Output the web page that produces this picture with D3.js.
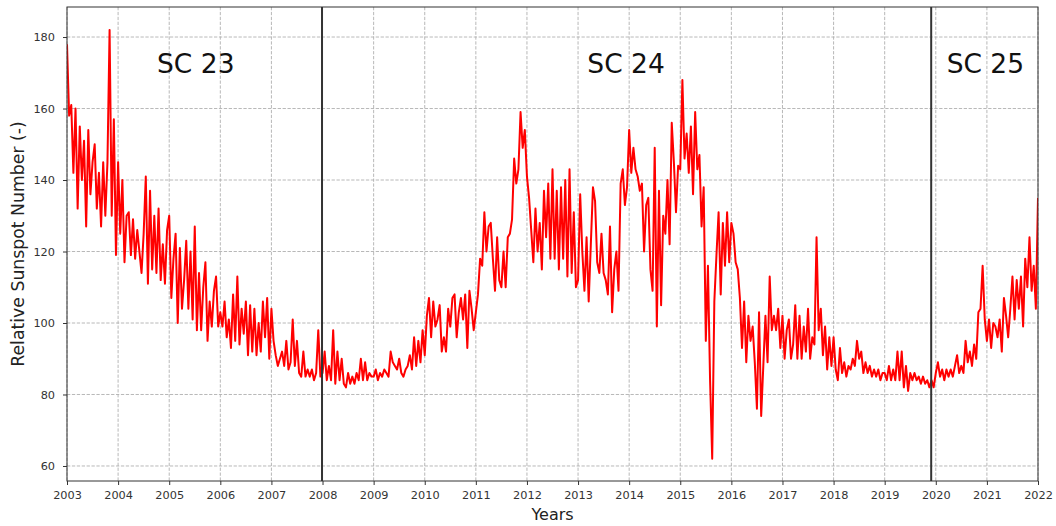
<!DOCTYPE html>
<html>
<head>
<meta charset="utf-8">
<script src="https://cdn.jsdelivr.net/npm/d3@7"></script>
<style>
  body { margin: 0; background: #fff; }
  svg { display: block; font-family: "DejaVu Sans", sans-serif; }
</style>
</head>
<body>
<script>
'use strict';

// half-monthly readings, 24 per year, starting 2003.0
const startYear = 2003;
const stepsPerYear = 24;
const sunspot = [
  // 2003
  178, 158, 161, 142, 160, 132, 155, 140, 151, 127, 154, 136, 145, 150, 132, 142, 127, 145, 130, 145, 182, 130, 157, 119,
  // 2004
  145, 125, 140, 117, 130, 131, 119, 129, 118, 126, 120, 114, 125, 141, 111, 137, 115, 130, 114, 132, 112, 122, 111, 126,
  // 2005
  130, 107, 118, 125, 100, 121, 104, 112, 123, 104, 120, 101, 127, 98, 114, 98, 110, 117, 95, 106, 99, 109, 113, 99,
  // 2006
  103, 99, 106, 96, 101, 93, 108, 95, 113, 94, 104, 97, 106, 91, 105, 92, 104, 91, 100, 92, 106, 96, 107, 90,
  // 2007
  104, 95, 91, 88, 90, 92, 88, 95, 87, 89, 101, 88, 95, 86, 85, 92, 85, 87, 85, 87, 84, 86, 98, 85,
  // 2008
  86, 92, 84, 88, 84, 98, 83, 92, 84, 90, 83, 82, 86, 83, 85, 83, 86, 84, 90, 84, 89, 84, 86, 85,
  // 2009
  85, 87, 84, 86, 85, 87, 86, 85, 92, 89, 88, 87, 90, 86, 85, 87, 88, 91, 87, 96, 88, 95, 89, 98,
  // 2010
  91, 102, 107, 96, 106, 99, 101, 105, 92, 96, 92, 104, 99, 107, 108, 96, 103, 107, 101, 108, 93, 109, 104, 98,
  // 2011
  103, 108, 118, 116, 131, 120, 127, 128, 118, 109, 124, 112, 110, 120, 110, 124, 125, 129, 146, 139, 143, 159, 149, 154,
  // 2012
  141, 135, 126, 117, 132, 120, 128, 115, 137, 124, 139, 118, 143, 118, 137, 115, 138, 118, 140, 113, 143, 114, 131, 110,
  // 2013
  112, 136, 120, 109, 124, 106, 122, 138, 134, 117, 114, 125, 114, 112, 108, 127, 103, 115, 120, 109, 139, 143, 133, 138,
  // 2014
  154, 142, 149, 143, 141, 137, 139, 120, 133, 135, 115, 109, 149, 99, 137, 105, 130, 125, 140, 122, 156, 145, 131, 144,
  // 2015
  143, 168, 146, 153, 142, 155, 136, 159, 143, 147, 127, 138, 95, 116, 84, 62, 106, 119, 131, 108, 128, 116, 131, 117,
  // 2016
  128, 125, 117, 115, 107, 93, 106, 89, 102, 95, 99, 89, 76, 103, 74, 88, 102, 89, 113, 98, 102, 98, 104, 93,
  // 2017
  102, 90, 98, 101, 90, 94, 105, 90, 102, 90, 99, 92, 104, 90, 96, 94, 124, 98, 104, 91, 99, 87, 96, 88,
  // 2018
  96, 87, 84, 93, 86, 89, 85, 88, 87, 90, 88, 95, 90, 92, 86, 89, 86, 88, 85, 87, 85, 87, 84, 86,
  // 2019
  86, 84, 88, 84, 87, 84, 92, 84, 92, 82, 88, 81, 86, 84, 86, 84, 85, 83, 85, 83, 84, 82, 84, 82,
  // 2020
  86, 89, 85, 87, 84, 87, 85, 87, 85, 88, 91, 86, 88, 86, 95, 89, 92, 88, 94, 90, 103, 104, 116, 101,
  // 2021
  95, 101, 93, 100, 99, 96, 101, 92, 107, 102, 96, 104, 113, 101, 112, 104, 113, 99, 118, 110, 124, 109, 116, 104,
  // 2022.0
  135
];

const xTicks = d3.range(2003, 2023);
const yTicks = [60, 80, 100, 120, 140, 160, 180];
const cycleStarts = [2007.99, 2019.91];
const cycleLabels = ["SC 23", "SC 24", "SC 25"];
const cycleLabelYears = [2005.52, 2013.94, 2020.97];
const cycleLabelValue = 170;

(function() {

  let svgContainer = d3.select('body')
    .append('svg')
    .attr('width', 1056)
    .attr('height', 526);

  const plotLeft = 67, plotRight = 1038, plotTop = 7, plotBottom = 481;

  let xScale = d3.scaleLinear()
    .domain([2003, 2022])
    .range([plotLeft, plotRight]);

  let yScale = d3.scaleLinear()
    .domain([55.8, 188.4])
    .range([plotBottom, plotTop]);

  // dashed grid
  let grid = svgContainer.append('g');
  grid.selectAll('.vgrid')
    .data(xTicks)
    .enter()
    .append('line')
    .attr('x1', d => xScale(d)).attr('x2', d => xScale(d))
    .attr('y1', plotTop).attr('y2', plotBottom)
    .attr('stroke', '#b0b0b0')
    .attr('stroke-width', 0.9)
    .attr('stroke-dasharray', '3.3,1.6');
  grid.selectAll('.hgrid')
    .data(yTicks)
    .enter()
    .append('line')
    .attr('x1', plotLeft).attr('x2', plotRight)
    .attr('y1', d => yScale(d)).attr('y2', d => yScale(d))
    .attr('stroke', '#b0b0b0')
    .attr('stroke-width', 0.9)
    .attr('stroke-dasharray', '3.3,1.6');

  // clip to plot area
  svgContainer.append('clipPath')
    .attr('id', 'plotclip')
    .append('rect')
    .attr('x', plotLeft).attr('y', plotTop)
    .attr('width', plotRight - plotLeft).attr('height', plotBottom - plotTop);

  // sunspot line
  let line = d3.line()
    .x((d, i) => xScale(startYear + i / stepsPerYear))
    .y(d => yScale(d));

  svgContainer.append('path')
    .datum(sunspot)
    .attr('clip-path', 'url(#plotclip)')
    .attr('d', line)
    .attr('fill', 'none')
    .attr('stroke', '#ff0000')
    .attr('stroke-width', 2)
    .attr('stroke-linejoin', 'round');

  // cycle boundaries
  svgContainer.selectAll('.cycle')
    .data(cycleStarts)
    .enter()
    .append('line')
    .attr('x1', d => xScale(d)).attr('x2', d => xScale(d))
    .attr('y1', plotTop).attr('y2', plotBottom)
    .attr('stroke', '#333333')
    .attr('stroke-width', 2);

  // cycle labels
  svgContainer.selectAll('.cycleLabel')
    .data(cycleLabels)
    .enter()
    .append('text')
    .attr('x', (d, i) => xScale(cycleLabelYears[i]))
    .attr('y', yScale(cycleLabelValue))
    .attr('text-anchor', 'middle')
    .attr('fill', '#111')
    .style('font-size', '26.5px')
    .text(d => d);

  // axes
  let xAxis = d3.axisBottom(xScale)
    .tickValues(xTicks)
    .tickFormat(d3.format('d'))
    .tickSize(4)
    .tickPadding(6);
  let gx = svgContainer.append('g')
    .attr('transform', 'translate(0,' + plotBottom + ')')
    .call(xAxis);

  let yAxis = d3.axisLeft(yScale)
    .tickValues(yTicks)
    .tickSize(4)
    .tickPadding(8);
  let gy = svgContainer.append('g')
    .attr('transform', 'translate(' + plotLeft + ',0)')
    .call(yAxis);

  [gx, gy].forEach(g => {
    g.select('.domain').remove();
    g.selectAll('line').attr('stroke', '#333');
    g.selectAll('text')
      .attr('fill', '#333')
      .style('font-size', '11.3px')
      .style('font-family', '"DejaVu Sans", sans-serif');
  });

  // frame
  svgContainer.append('rect')
    .attr('x', plotLeft).attr('y', plotTop)
    .attr('width', plotRight - plotLeft).attr('height', plotBottom - plotTop)
    .attr('fill', 'none')
    .attr('stroke', '#333')
    .attr('stroke-width', 1);

  // axis labels
  svgContainer.append('text')
    .attr('x', (plotLeft + plotRight) / 2)
    .attr('y', 520)
    .attr('text-anchor', 'middle')
    .attr('fill', '#222')
    .style('font-size', '16px')
    .text('Years');

  svgContainer.append('text')
    .attr('transform', 'translate(24,' + ((plotTop + plotBottom) / 2) + ')rotate(-90)')
    .attr('text-anchor', 'middle')
    .attr('fill', '#222')
    .style('font-size', '17.3px')
    .text('Relative Sunspot Number (-)');
})();
</script>
</body>
</html>
